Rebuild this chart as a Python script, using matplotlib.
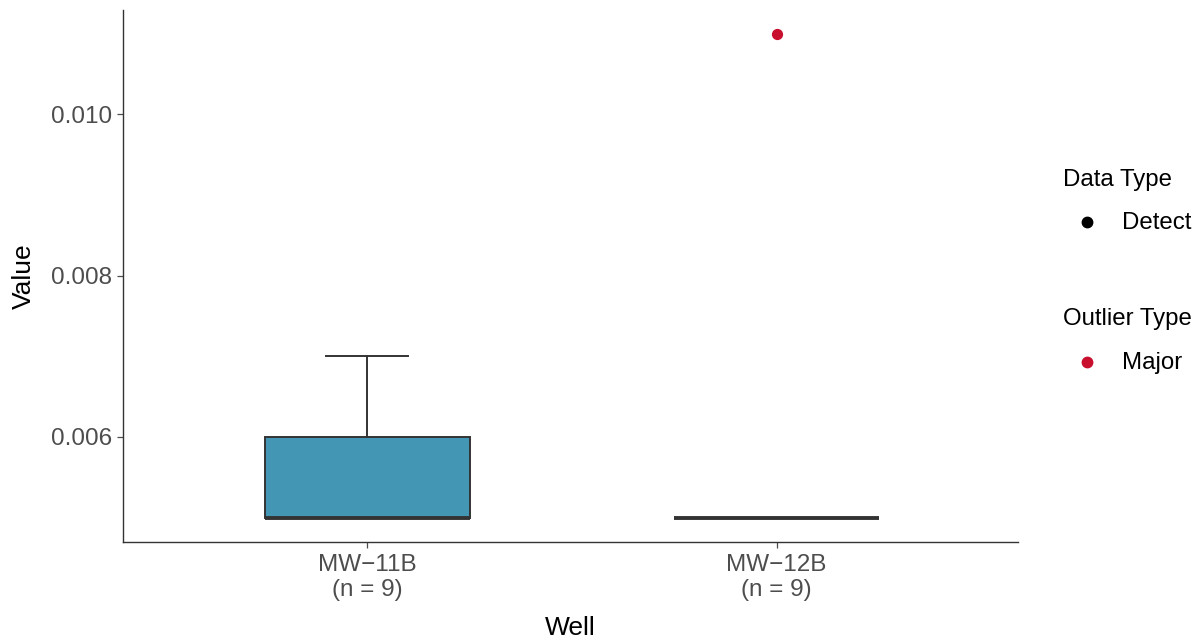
import matplotlib.pyplot as plt
from matplotlib.lines import Line2D

plt.rcParams['font.family'] = ['Liberation Sans', 'DejaVu Sans']

wells = ["MW\u221211B", "MW\u221212B"]
values_11b = [0.005, 0.005, 0.005, 0.005, 0.005, 0.005, 0.006, 0.006, 0.007]
values_12b = [0.005, 0.005, 0.005, 0.005, 0.005, 0.005, 0.005, 0.005, 0.011]
outlier_well = [2]
outlier_value = [0.011]

box_fill = "#4397B5"
edge = "#333333"
major_red = "#C8102E"

W, H = 1199, 642
fig = plt.figure(figsize=(W / 100, H / 100), dpi=100)
ax = fig.add_axes([0.1026, 0.156, 0.7464, 0.828])

data = [values_11b, values_12b]
bp = ax.boxplot(data, positions=[1, 2], widths=0.5, patch_artist=True,
                showfliers=False, whis=1.5,
                boxprops=dict(facecolor=box_fill, edgecolor=edge, linewidth=1.4),
                medianprops=dict(color=edge, linewidth=2.8),
                whiskerprops=dict(color=edge, linewidth=1.4),
                capprops=dict(color=edge, linewidth=1.4))
for cap in bp["caps"]:
    x0, x1 = cap.get_xdata()
    c = (x0 + x1) / 2
    cap.set_xdata([c - 0.1, c + 0.1])

ax.scatter(outlier_well, outlier_value, color=major_red, s=50, zorder=5)

ax.set_xlim(0.403, 2.59)
ax.set_ylim(0.0047, 0.01129)
ax.set_yticks([0.006, 0.008, 0.010])
ax.set_yticklabels(["0.006", "0.008", "0.010"])
ax.set_xticks([1, 2])
ax.set_xticklabels([f"{w}\n(n = {len(d)})" for w, d in zip(wells, data)],
                   linespacing=1.15)
ax.tick_params(labelsize=17.5, colors="#4D4D4D", length=4, width=0.9)
ax.tick_params(axis="x", pad=5)
ax.tick_params(axis="y", pad=4)
for s in ["top", "right"]:
    ax.spines[s].set_visible(False)
for s in ["left", "bottom"]:
    ax.spines[s].set_color("#333333")
    ax.spines[s].set_linewidth(1.0)
ax.set_xlabel("Well", fontsize=19, labelpad=11)
ax.set_ylabel("Value", fontsize=19, labelpad=11)

# legends drawn by hand in pixel positions (ggplot-style guide layout)
legend_groups = [("Data Type", "Detect", "black", 180, 223),
                 ("Outlier Type", "Major", major_red, 319, 363)]
for title, label, col, ty, ly in legend_groups:
    fig.text(1063 / W, 1 - ty / H, title, fontsize=17.3, va="center", ha="left")
    fig.add_artist(Line2D([1087 / W], [1 - (ly - 1) / H], marker="o", color=col,
                          markersize=7.5, linestyle="", transform=fig.transFigure))
    fig.text(1122 / W, 1 - ly / H, label, fontsize=17.3, va="center", ha="left")

fig.savefig("out.png", dpi=100)
